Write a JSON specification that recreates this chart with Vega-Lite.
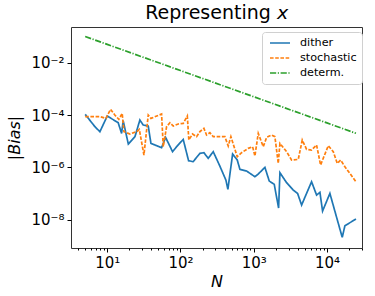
{
  "$schema": "https://vega.github.io/schema/vega-lite/v6.json",
  "width": 291,
  "height": 221,
  "autosize": {"type": "none"},
  "padding": {"left": 71, "top": 27, "right": 13, "bottom": 48},
  "background": "white",
  "title": {"text": "Representing 𝘹", "fontSize": 19, "font": "DejaVu Sans", "fontWeight": "normal", "color": "black", "anchor": "middle", "frame": "group", "baseline": "alphabetic", "offset": 7, "dy": 18},
  "config": {
    "view": {"stroke": "#333", "strokeWidth": 1},
    "font": "DejaVu Sans",
    "axis": {"grid": false, "domain": false, "tickColor": "black", "labelColor": "black", "titleColor": "black", "labelFont": "DejaVu Sans", "titleFont": "DejaVu Sans", "titleFontWeight": "normal"}
  },
  "data": {"values": [
    {"N": 5.0, "s": "dither", "b": 1.06e-4},
    {"N": 6.79, "s": "dither", "b": 3.58e-5},
    {"N": 7.94, "s": "dither", "b": 2.31e-5},
    {"N": 10, "s": "dither", "b": 9.16e-5},
    {"N": 14.1, "s": "dither", "b": 5.1e-5},
    {"N": 15.7, "s": "dither", "b": 1.99e-5},
    {"N": 16.5, "s": "dither", "b": 6.07e-5},
    {"N": 19.4, "s": "dither", "b": 7.8e-6},
    {"N": 23.9, "s": "dither", "b": 1.49e-5},
    {"N": 27.9, "s": "dither", "b": 6.44e-5},
    {"N": 31.0, "s": "dither", "b": 4.15e-5},
    {"N": 36.3, "s": "dither", "b": 3.8e-5},
    {"N": 39.5, "s": "dither", "b": 8.26e-6},
    {"N": 55.2, "s": "dither", "b": 5.65e-6},
    {"N": 62.6, "s": "dither", "b": 1.4e-5},
    {"N": 78.0, "s": "dither", "b": 3.97e-6},
    {"N": 88.5, "s": "dither", "b": 6.17e-6},
    {"N": 109, "s": "dither", "b": 1.17e-5},
    {"N": 129, "s": "dither", "b": 1.8e-6},
    {"N": 149, "s": "dither", "b": 1.65e-6},
    {"N": 184, "s": "dither", "b": 3.43e-6},
    {"N": 209, "s": "dither", "b": 3.64e-6},
    {"N": 239, "s": "dither", "b": 2.21e-6},
    {"N": 280, "s": "dither", "b": 3.97e-6},
    {"N": 345, "s": "dither", "b": 1.12e-6},
    {"N": 417, "s": "dither", "b": 3.28e-7},
    {"N": 444, "s": "dither", "b": 1.44e-7},
    {"N": 515, "s": "dither", "b": 3.24e-6},
    {"N": 596, "s": "dither", "b": 1.91e-6},
    {"N": 648, "s": "dither", "b": 8.4e-7},
    {"N": 800, "s": "dither", "b": 7.24e-7},
    {"N": 1038, "s": "dither", "b": 4.4e-7},
    {"N": 1153, "s": "dither", "b": 5.56e-7},
    {"N": 1422, "s": "dither", "b": 1.0e-6},
    {"N": 1630, "s": "dither", "b": 3.0e-7},
    {"N": 1907, "s": "dither", "b": 2.24e-7},
    {"N": 2187, "s": "dither", "b": 2.79e-8},
    {"N": 2280, "s": "dither", "b": 6.25e-7},
    {"N": 2811, "s": "dither", "b": 2.6e-7},
    {"N": 3467, "s": "dither", "b": 1.36e-7},
    {"N": 3973, "s": "dither", "b": 1.01e-7},
    {"N": 4508, "s": "dither", "b": 3.64e-8},
    {"N": 6166, "s": "dither", "b": 2.83e-7},
    {"N": 7216, "s": "dither", "b": 8.77e-8},
    {"N": 8017, "s": "dither", "b": 1.11e-7},
    {"N": 8715, "s": "dither", "b": 2.14e-8},
    {"N": 10970, "s": "dither", "b": 1.01e-7},
    {"N": 16170, "s": "dither", "b": 2.11e-9},
    {"N": 17590, "s": "dither", "b": 5.9e-9},
    {"N": 24890, "s": "dither", "b": 1.06e-8},
    {"N": 5.0, "s": "stochastic", "b": 8.63e-5},
    {"N": 7.94, "s": "stochastic", "b": 8.63e-5},
    {"N": 9.59, "s": "stochastic", "b": 7.46e-5},
    {"N": 11.1, "s": "stochastic", "b": 1.65e-4},
    {"N": 12.7, "s": "stochastic", "b": 1.0e-4},
    {"N": 14.4, "s": "stochastic", "b": 6.83e-5},
    {"N": 16.0, "s": "stochastic", "b": 1.16e-4},
    {"N": 16.9, "s": "stochastic", "b": 2.31e-5},
    {"N": 20.4, "s": "stochastic", "b": 1.88e-5},
    {"N": 25.2, "s": "stochastic", "b": 2.31e-5},
    {"N": 27.4, "s": "stochastic", "b": 2.83e-5},
    {"N": 31.7, "s": "stochastic", "b": 2.96e-6},
    {"N": 36.3, "s": "stochastic", "b": 1.0e-4},
    {"N": 39.5, "s": "stochastic", "b": 7.46e-5},
    {"N": 55.2, "s": "stochastic", "b": 1.09e-4},
    {"N": 58.2, "s": "stochastic", "b": 6.17e-6},
    {"N": 64.6, "s": "stochastic", "b": 3.58e-5},
    {"N": 71.8, "s": "stochastic", "b": 5.1e-5},
    {"N": 79.7, "s": "stochastic", "b": 3.8e-5},
    {"N": 93.2, "s": "stochastic", "b": 4.53e-5},
    {"N": 109, "s": "stochastic", "b": 4.81e-5},
    {"N": 124, "s": "stochastic", "b": 9.16e-5},
    {"N": 130, "s": "stochastic", "b": 1.11e-5},
    {"N": 146, "s": "stochastic", "b": 1.88e-5},
    {"N": 166, "s": "stochastic", "b": 1.49e-5},
    {"N": 184, "s": "stochastic", "b": 2.31e-5},
    {"N": 209, "s": "stochastic", "b": 3.09e-5},
    {"N": 227, "s": "stochastic", "b": 1.72e-5},
    {"N": 252, "s": "stochastic", "b": 2.11e-5},
    {"N": 280, "s": "stochastic", "b": 1.49e-5},
    {"N": 328, "s": "stochastic", "b": 1.49e-5},
    {"N": 404, "s": "stochastic", "b": 1.49e-5},
    {"N": 449, "s": "stochastic", "b": 6.53e-6},
    {"N": 488, "s": "stochastic", "b": 1.49e-5},
    {"N": 596, "s": "stochastic", "b": 2.56e-6},
    {"N": 683, "s": "stochastic", "b": 3.64e-6},
    {"N": 842, "s": "stochastic", "b": 5.32e-6},
    {"N": 966, "s": "stochastic", "b": 6.17e-6},
    {"N": 1038, "s": "stochastic", "b": 2.71e-6},
    {"N": 1153, "s": "stochastic", "b": 1.99e-5},
    {"N": 1350, "s": "stochastic", "b": 6.17e-6},
    {"N": 1500, "s": "stochastic", "b": 1.4e-5},
    {"N": 1755, "s": "stochastic", "b": 1.72e-5},
    {"N": 1947, "s": "stochastic", "b": 1.49e-5},
    {"N": 2163, "s": "stochastic", "b": 1.42e-6},
    {"N": 2280, "s": "stochastic", "b": 8.26e-6},
    {"N": 2811, "s": "stochastic", "b": 3.97e-6},
    {"N": 3289, "s": "stochastic", "b": 1.91e-6},
    {"N": 4058, "s": "stochastic", "b": 2.02e-6},
    {"N": 4602, "s": "stochastic", "b": 1.11e-5},
    {"N": 5272, "s": "stochastic", "b": 4.88e-6},
    {"N": 6166, "s": "stochastic", "b": 4.59e-6},
    {"N": 7216, "s": "stochastic", "b": 7.14e-6},
    {"N": 8185, "s": "stochastic", "b": 1.23e-6},
    {"N": 10420, "s": "stochastic", "b": 6.73e-6},
    {"N": 12190, "s": "stochastic", "b": 3.97e-6},
    {"N": 13830, "s": "stochastic", "b": 1.42e-6},
    {"N": 15360, "s": "stochastic", "b": 1.91e-6},
    {"N": 17590, "s": "stochastic", "b": 1.06e-6},
    {"N": 24890, "s": "stochastic", "b": 2.83e-7},
    {"N": 5.0, "s": "determ.", "b": 0.1},
    {"N": 10, "s": "determ.", "b": 0.05},
    {"N": 100, "s": "determ.", "b": 0.005},
    {"N": 1000, "s": "determ.", "b": 0.0005},
    {"N": 10000, "s": "determ.", "b": 0.00005},
    {"N": 24890, "s": "determ.", "b": 0.00002}
  ]},
  "resolve": {"axis": {"x": "independent"}},
  "layer": [
    {
      "mark": {"type": "line", "strokeWidth": 1.7, "clip": true},
      "encoding": {
        "x": {"field": "N", "type": "quantitative",
          "scale": {"type": "log", "domain": [3.2, 30100], "nice": false},
          "axis": {"orient": "bottom", "values": [10, 100, 1000, 10000], "tickSize": 4, "labelFontSize": 15, "labelPadding": 3,
            "labelExpr": "datum.value == 10 ? '10¹' : datum.value == 100 ? '10²' : datum.value == 1000 ? '10³' : '10⁴'",
            "title": "N", "titleFontSize": 16, "titleFontStyle": "italic", "titlePadding": 3}},
        "y": {"field": "b", "type": "quantitative",
          "scale": {"type": "log", "domain": [8.3e-10, 0.231], "nice": false},
          "axis": {"values": [0.01, 0.0001, 0.000001, 0.00000001], "tickSize": 4, "labelFontSize": 15, "labelPadding": 3,
            "labelExpr": "datum.value > 0.001 ? '10⁻²' : datum.value > 0.00001 ? '10⁻⁴' : datum.value > 0.0000001 ? '10⁻⁶' : '10⁻⁸'",
            "title": "|Bias|", "titleFontSize": 16, "titleFontStyle": "italic", "titlePadding": 8}},
        "color": {"field": "s", "type": "nominal",
          "scale": {"domain": ["dither", "stochastic", "determ."], "range": ["#1f77b4", "#ff7f0e", "#2ca02c"]},
          "legend": {"orient": "none", "legendX": 191, "legendY": 5, "title": null, "padding": 5, "symbolOffset": 2,
            "symbolType": "stroke", "symbolSize": 400, "symbolStrokeWidth": 1.7, "labelFontSize": 11.2, "labelOffset": 9,
            "rowPadding": 3, "clipHeight": 12, "strokeColor": "#d0d0d0", "fillColor": "rgba(255,255,255,0.8)", "cornerRadius": 3, "labelColor": "black", "labelLimit": 200}},
        "strokeDash": {"field": "s", "type": "nominal",
          "scale": {"domain": ["dither", "stochastic", "determ."], "range": [[1, 0], [3.6, 1.6], [6.2, 1.6, 1.2, 1.6]]},
          "legend": {"orient": "none", "legendX": 191, "legendY": 5, "title": null}}
      }
    },
    {
      "mark": {"type": "point", "opacity": 0},
      "encoding": {
        "x": {"field": "N", "type": "quantitative",
          "axis": {"orient": "bottom", "values": [4, 5, 6, 7, 8, 9, 20, 30, 40, 50, 60, 70, 80, 90, 200, 300, 400, 500, 600, 700, 800, 900, 2000, 3000, 4000, 5000, 6000, 7000, 8000, 9000, 20000, 30000], "tickSize": 2, "labels": false, "title": null, "tickColor": "black"}}
      }
    }
  ]
}
